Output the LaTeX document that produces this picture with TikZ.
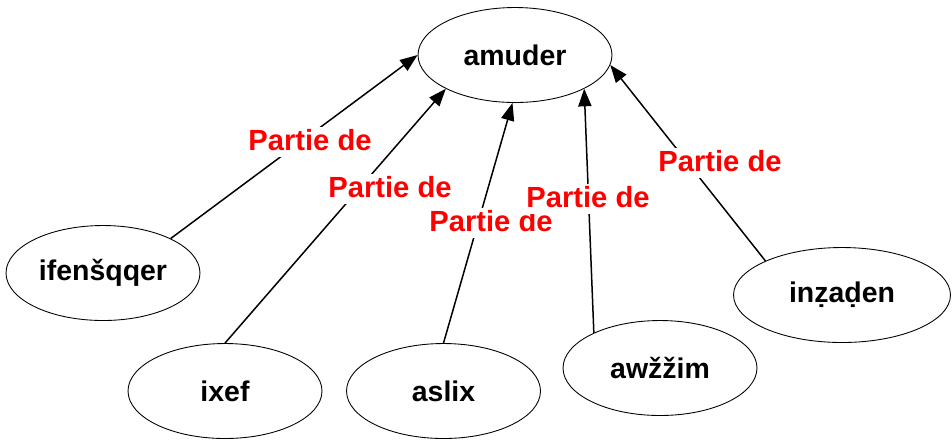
\documentclass[tikz,border=0pt]{standalone}
\usepackage{fontspec}
\setmainfont{Liberation Sans}
\usetikzlibrary{shapes.geometric}
\usetikzlibrary{arrows.meta}

\begin{document}
\begin{tikzpicture}[x=0.02cm,y=-0.02cm,
    word/.style={draw,ellipse,line width=0.5pt,inner sep=0pt,minimum width=3.88cm,minimum height=1.9cm,font=\fontsize{16.2}{19}\selectfont\bfseries},
    partof/.style={line width=0.85pt,-{Triangle[length=10pt,width=7.5pt]}},
    lbl/.style={fill=white,inner sep=1pt,text depth=3pt,anchor=base,text=red,font=\fontsize{16.6}{19}\selectfont\bfseries}]
    \useasboundingbox (0,0) rectangle (952,441);

    \node[word] (amuder) at (515,55) {amuder};
    \node[word] (ifen) at (103,273) {ifenšqqer};
    \node[word] (ixef) at (225,391) {ixef};
    \node[word] (aslix) at (443.5,391) {aslix};
    \node[word] (awzzim) at (660,368) {awžžim};
    \node[word,minimum width=4.34cm] (inzaden) at (842,295) {inẓaḍen};

    \draw[partof] (ifen.27) -- (amuder.180);
    \draw[partof] (ixef.90) -- (amuder.206.6);
    \draw[partof] (aslix.90) -- (amuder.267);
    \draw[partof] (awzzim.152.8) -- (amuder.334);
    \draw[partof] (inzaden.156.8) -- (amuder.354);

    \node[lbl] (l1) at (310,150) {Partie de};
    \node[lbl] (l2) at (390,197) {Partie de};
    \node[lbl] (l3) at (491,231) {Partie de};
    \node[lbl] (l4) at (588,207) {Partie de};
    \node[lbl] (l5) at (720,171) {Partie de};

\end{tikzpicture}
\end{document}
